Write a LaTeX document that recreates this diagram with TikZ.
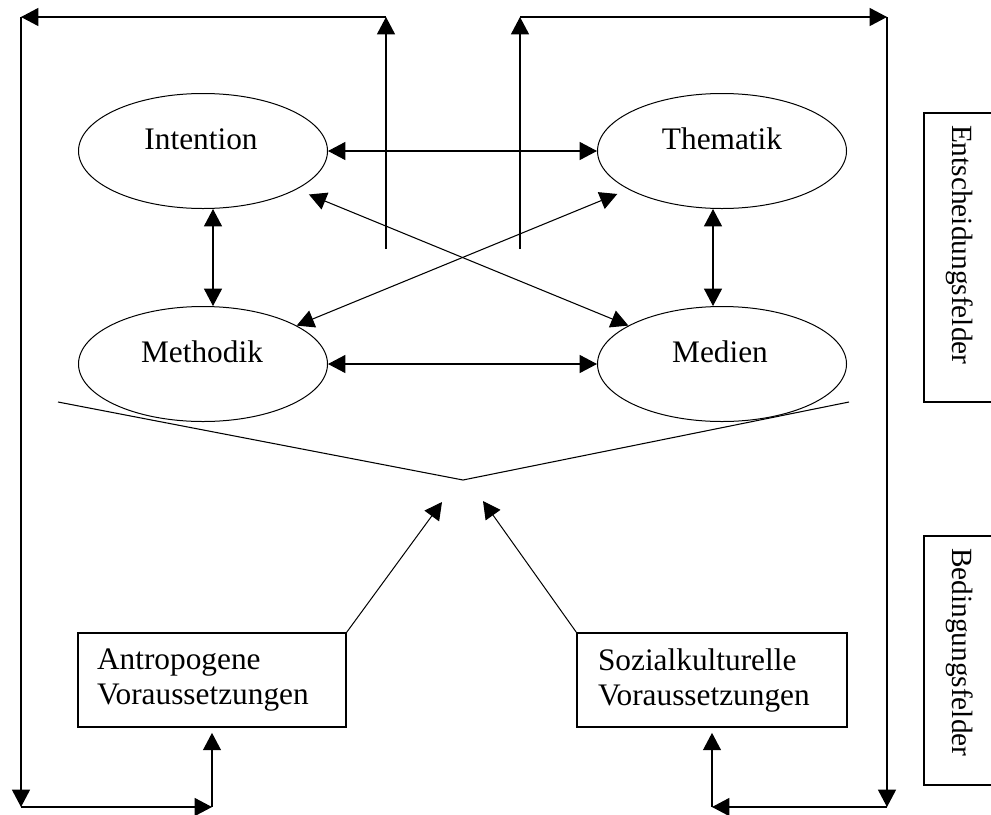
\documentclass[tikz,border=0pt]{standalone}
\usepackage{fontspec}
\setmainfont{Liberation Serif}
\usetikzlibrary{arrows.meta,shapes.geometric}
\begin{document}
\begin{tikzpicture}[x=0.75pt,y=-0.75pt,
  font=\fontsize{23.5}{26.25}\selectfont,
  tipe/.tip={Triangle[length=13pt,width=13.5pt]},
  conn/.style={line width=0.9pt,-tipe},
  dconn/.style={line width=0.8pt,tipe-tipe},
  ell/.style={draw,ellipse,line width=0.75pt,minimum width=186.75pt,minimum height=86.25pt,inner sep=0pt},
  lbl/.style={inner sep=0pt,anchor=base},
  condbox/.style={draw,rectangle,line width=0.8pt,minimum height=70.5pt,align=left,inner ysep=0pt},
  sidebox/.style={draw,rectangle,line width=0.8pt,rotate=-90,minimum height=54pt,inner xsep=9pt,align=left,font=\fontsize{22}{26}\selectfont}
]
\clip (0,0) rectangle (991,814);
\fill[white] (0,0) rectangle (991,814);

% ellipses
\node[ell] (I) at (203,151) {};
\node[ell] (T) at (722,151) {};
\node[ell] (M) at (203,364) {};
\node[ell] (D) at (722,364) {};
\node[lbl] (It) at (201,149) {Intention};
\node[lbl] (Tt) at (722,149) {Thematik};
\node[lbl] (Mt) at (202,362) {Methodik};
\node[lbl] (Dt) at (720,362) {Medien};

% condition boxes
\node[condbox,minimum width=201pt,text width=172.5pt,inner xsep=14.25pt] (A) at (212,680) {Antropogene\\Voraussetzungen};
\node[condbox,minimum width=202.5pt,text width=171pt,inner xsep=15.75pt] (S) at (712,680) {Sozialkulturelle\\Voraussetzungen};

% side boxes
\node[sidebox,text width=198.75pt] (E) at (960,257.5) {Entscheidungsfelder};
\node[sidebox,text width=168.75pt] (B) at (960,660.5) {Bedingungsfelder};

% connectors between ellipses
\draw[dconn] (I.east) -- (T.west);
\draw[dconn] (M.east) -- (D.west);
\draw[dconn] ([xshift=7.5pt]I.south) -- ([xshift=7.5pt]M.north);
\draw[dconn] ([xshift=-6.75pt]T.south) -- ([xshift=-6.75pt]D.north);
\draw[dconn,shorten <=10pt] (I) -- (D);
\draw[dconn,shorten <=9pt] (T) -- (M);

% frame arrows
\coordinate (c1) at (386,249);
\coordinate (c2) at (386,17);
\coordinate (c3) at (21,17);
\coordinate (c4) at (21,807);
\coordinate (c5) at (212,807);
\draw[conn] (c1) -- (c2);
\draw[conn] (c2) -- (c3);
\draw[conn] (c3) -- (c4);
\draw[conn] (c4) -- (c5);
\draw[conn,shorten >=4pt] (c5) -- (A.south);

\coordinate (d1) at (520,249);
\coordinate (d2) at (520,17);
\coordinate (d3) at (887,17);
\coordinate (d4) at (887,807);
\coordinate (d5) at (712,807);
\draw[conn] (d1) -- (d2);
\draw[conn] (d2) -- (d3);
\draw[conn] (d3) -- (d4);
\draw[conn] (d4) -- (d5);
\draw[conn,shorten >=4pt] (d5) -- (S.south);

% V shape
\coordinate (v1) at (58,402);
\coordinate (v2) at (463,480);
\coordinate (v3) at (849,402);
\draw[line width=0.8pt] (v1) -- (v2) -- (v3);

% arrows from the condition boxes
\coordinate (t1) at (442,502);
\coordinate (t2) at (483,501);
\draw[conn,line width=0.75pt] (A.north east) -- (t1);
\draw[conn,line width=0.75pt] (S.north west) -- (t2);
\end{tikzpicture}
\end{document}
